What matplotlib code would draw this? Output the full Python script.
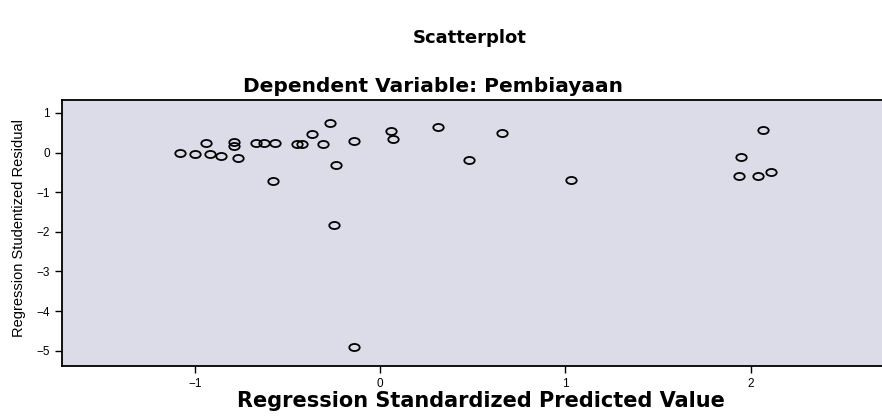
import numpy as np
import matplotlib.pyplot as plt
from matplotlib.path import Path

# standardized predicted value (x) and studentized residual (y)
pred = [-1.08, -1.00, -0.94, -0.92, -0.86, -0.79, -0.79, -0.77, -0.67, -0.63,
        -0.57, -0.58, -0.45, -0.42, -0.37, -0.31, -0.27, -0.24, -0.25, -0.14,
        0.06, 0.07, 0.31, 0.66, 0.48, 1.03, 2.07, 1.95, 1.94, 2.04, 2.11, -0.14]
resid = [-0.02, -0.03, 0.25, -0.04, -0.08, 0.26, 0.17, -0.14, 0.24, 0.24,
         0.25, -0.71, 0.22, 0.22, 0.46, 0.21, 0.74, -0.31, -1.84, 0.28,
         0.55, 0.35, 0.64, 0.49, -0.19, -0.69, 0.56, -0.11, -0.59, -0.58, -0.49, -4.90]

xticks = [-1, 0, 1, 2]
yticks = [1, 0, -1, -2, -3, -4, -5]

plt.rcParams['font.family'] = ['Liberation Sans', 'DejaVu Sans']

# the scanned circles come out as flat ellipses
circ = Path.unit_circle()
ellipse = Path(circ.vertices * np.array([1.0, 0.68]), circ.codes)

fig = plt.figure(figsize=(8.82, 4.16), dpi=100)
ax = fig.add_axes([0.070, 0.120, 0.930, 0.640])
ax.set_facecolor('#dcdce8')

ax.plot(pred, resid, linestyle='none', marker=ellipse, markersize=7.5,
        markerfacecolor='none', markeredgecolor='black', markeredgewidth=1.3)

ax.set_xlim(-1.72, 2.71)
ax.set_ylim(-5.39, 1.33)
ax.set_xticks(xticks)
ax.set_yticks(yticks)
ax.tick_params(direction='out', length=5, width=1, labelsize=8.5, colors='black')

for side in ['left', 'bottom', 'top']:
    ax.spines[side].set_linewidth(1.3)
ax.spines['right'].set_visible(False)

ax.set_xlabel('Regression Standardized Predicted Value', fontsize=15,
              fontweight='bold', family='DejaVu Sans')
ax.xaxis.set_label_coords(0.511, -0.095)
ax.set_ylabel('Regression Studentized Residual', fontsize=10.5)
ax.yaxis.set_label_coords(-0.044, 0.52)

fig.text(0.533, 0.909, 'Scatterplot', ha='center', va='center',
         fontsize=13, fontweight='bold', family='DejaVu Sans')
fig.text(0.491, 0.791, 'Dependent Variable: Pembiayaan', ha='center',
         va='center', fontsize=14.5, fontweight='bold', family='DejaVu Sans')

fig.savefig('out.png', dpi=100, facecolor='white')
